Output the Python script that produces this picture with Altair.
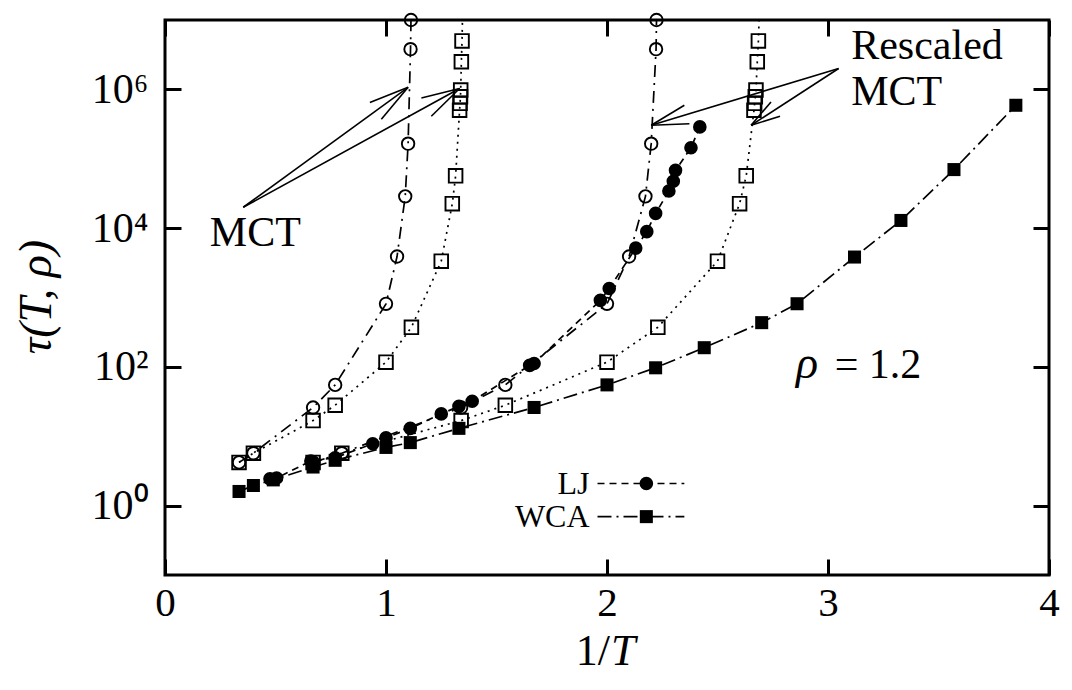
import altair as alt
import pandas as pd

FONT = "Liberation Serif"

# ---- simulation data (filled symbols) ----
lj_x = [0.475, 0.505, 0.66, 0.77, 0.94, 1.00, 1.11, 1.25, 1.33, 1.39, 1.65, 1.67,
        1.97, 2.01, 2.13, 2.18, 2.22, 2.28, 2.30, 2.31, 2.38, 2.42]
lj_y = [2.43, 2.5, 4.4, 4.9, 7.8, 9.5, 13, 21, 27, 32, 105, 112,
        910, 1350, 5150, 8900, 16300, 34300, 47300, 68000, 144000, 288000]

wca_x = [0.335, 0.40, 0.49, 0.67, 0.77, 1.00, 1.11, 1.33, 1.67, 2.00, 2.22, 2.44,
         2.70, 2.86, 3.12, 3.33, 3.57, 3.85]
wca_y = [1.6, 1.95, 2.35, 3.6, 4.5, 6.9, 8.1, 13, 26, 55, 97, 189,
         434, 813, 3830, 12900, 69800, 590000]

# ---- MCT predictions (open symbols) ----
mct_lj_x = [0.335, 0.40, 0.67, 0.77, 1.00, 1.05, 1.087, 1.10, 1.111, 1.113]
mct_lj_y = [4.2, 5.7, 26, 55, 810, 3900, 28700, 165000, 3.8e6, 1.0e7]

mct_wca_x = [0.335, 0.40, 0.67, 0.77, 1.00, 1.115, 1.25, 1.30, 1.315, 1.333,
             1.335, 1.337, 1.338, 1.341, 1.344, 1.347]
mct_wca_y = [4.2, 5.7, 16.8, 28, 117, 372, 3340, 22500, 56700, 5.0e5,
             6.3e5, 7.8e5, 9.8e5, 2.5e6, 5.0e6, 1.5e7]

res_lj_x = [0.67, 0.80, 1.34, 1.54, 2.00, 2.10, 2.174, 2.20, 2.222, 2.224]
res_lj_y = [4.2, 5.7, 26, 55, 810, 3900, 28700, 165000, 3.8e6, 1.0e7]

res_wca_x = [0.67, 0.80, 1.34, 1.54, 2.00, 2.23, 2.50, 2.60, 2.63, 2.665,
             2.668, 2.671, 2.674, 2.68, 2.685, 2.69]
res_wca_y = [4.2, 5.7, 16.8, 28, 117, 372, 3340, 22500, 56700, 5.0e5,
             6.3e5, 7.8e5, 9.8e5, 2.5e6, 5.0e6, 1.5e7]

# ---- axes ----
x_ticks = [0, 1, 2, 3, 4]
y_ticks = [1, 100, 10000, 1000000]
y_tick_labels = ["10⁰", "10²", "10⁴", "10⁶"]

# ---- annotations (data coordinates) ----
ann_text = ["MCT", "Rescaled", "MCT", "= 1.2"]
ann_x = [0.203, 3.105, 3.105, 3.030]
ann_y = [5.6e3, 2.7e6, 5.9e5, 68]
rho_x, rho_y = 2.855, 68

arrow_start_x = [0.354, 0.354, 3.048, 3.048]
arrow_start_y = [2.0e4, 2.0e4, 2.0e6, 2.0e6]
arrow_tip_x = [1.100, 1.333, 2.200, 2.652]
arrow_tip_y = [1.07e6, 1.03e6, 3.04e5, 3.04e5]
barb1_x = [0.927, 1.160, 2.350, 2.742]
barb1_y = [6.45e5, 7.5e5, 5.9e5, 6.6e5]
barb2_x = [0.979, 1.205, 2.373, 2.783]
barb2_y = [3.7e5, 4.1e5, 3.2e5, 4.1e5]

legend_labels = ["LJ", "WCA"]
legend_y = [2.08, 0.694]
legend_text_x = 1.921
legend_line_x = [1.957, 2.350]
legend_mark_x = 2.178

xscale = alt.Scale(domain=[0, 4], nice=False, zero=False)
yscale = alt.Scale(type="log", domain=[0.1, 1e7], nice=False)

label_expr = " : ".join(
    f"datum.value == {v} ? '{l}'" for v, l in zip(y_ticks, y_tick_labels)
) + " : ''"

tick_common = dict(offset=-16, tickSize=16, tickWidth=3, tickColor="black",
                   domain=False, grid=False, title=None)

bottom_axis = alt.Axis(orient="bottom", values=x_ticks, labelFont=FONT, labelFontSize=41,
                       labelColor="black", labelPadding=8, labelFlush=False, format="d",
                       **tick_common)
left_axis = alt.Axis(orient="left", values=y_ticks, labelFont=FONT, labelFontSize=42,
                     labelColor="black", labelPadding=17, labelExpr=label_expr,
                     **tick_common)
top_axis = alt.Axis(orient="top", values=x_ticks, labels=False, **tick_common)
right_axis = alt.Axis(orient="right", values=y_ticks, labels=False, **tick_common)


def X(axis=None):
    return alt.X("x:Q", scale=xscale, axis=axis)


def Y(axis=None):
    return alt.Y("y:Q", scale=yscale, axis=axis)


axis_df = pd.DataFrame({"x": [0, 4], "y": [1, 1e6]})
axes_main = alt.Chart(axis_df).mark_point(opacity=0).encode(x=X(bottom_axis), y=Y(left_axis))
axes_mirror = alt.Chart(axis_df).mark_point(opacity=0).encode(x=X(top_axis), y=Y(right_axis))


def series(xs, ys, shape, filled, size, dash, clip=False):
    df = pd.DataFrame({"x": xs, "y": ys, "i": list(range(len(xs)))})
    base = alt.Chart(df).encode(x=X(), y=Y(), order=alt.Order("i:Q"))
    line = base.mark_line(color="black", strokeWidth=1.7, strokeDash=dash, clip=clip)
    if filled:
        pts = base.mark_point(shape=shape, filled=True, size=size, color="black",
                              opacity=1, clip=clip)
    else:
        pts = base.mark_point(shape=shape, filled=False, size=size, color="black",
                              strokeWidth=1.9, opacity=1, clip=clip)
    return [line, pts]


layers = [axes_main, axes_mirror]
layers += series(mct_wca_x, mct_wca_y, "square", False, 185, [2, 5], clip=True)
layers += series(res_wca_x, res_wca_y, "square", False, 185, [2, 5], clip=True)
layers += series(mct_lj_x, mct_lj_y, "circle", False, 155, [12, 6, 2, 6])
layers += series(res_lj_x, res_lj_y, "circle", False, 155, [12, 6, 2, 6])
layers += series(wca_x, wca_y, "square", True, 170, [14, 5, 2, 5])
layers += series(lj_x, lj_y, "circle", True, 185, [7, 5])

# arrows
shaft_df = pd.DataFrame({"x": arrow_start_x, "y": arrow_start_y,
                         "x2": arrow_tip_x, "y2": arrow_tip_y})
barb_df = pd.DataFrame({"x": barb1_x + barb2_x, "y": barb1_y + barb2_y,
                        "x2": arrow_tip_x + arrow_tip_x, "y2": arrow_tip_y + arrow_tip_y})
for d in (shaft_df, barb_df):
    layers.append(alt.Chart(d).mark_rule(color="black", strokeWidth=1.6).encode(
        x=X(), y=Y(), x2="x2:Q", y2="y2:Q"))

# annotation texts
ann_df = pd.DataFrame({"x": ann_x, "y": ann_y, "t": ann_text})
layers.append(alt.Chart(ann_df).mark_text(font=FONT, fontSize=42, align="left",
                                          baseline="alphabetic", color="black").encode(
    x=X(), y=Y(), text="t:N"))
rho_df = pd.DataFrame({"x": [rho_x], "y": [rho_y], "t": ["ρ"]})
layers.append(alt.Chart(rho_df).mark_text(font=FONT, fontSize=46, fontStyle="italic",
                                          align="left", baseline="alphabetic",
                                          color="black").encode(x=X(), y=Y(), text="t:N"))

# legend
leg_text_df = pd.DataFrame({"x": [legend_text_x] * 2, "y": legend_y, "t": legend_labels})
layers.append(alt.Chart(leg_text_df).mark_text(font=FONT, fontSize=32, align="right",
                                               baseline="middle", color="black").encode(
    x=X(), y=Y(), text="t:N"))
leg_dashes = [[7, 5], [14, 5, 2, 5]]
leg_shapes = ["circle", "square"]
leg_sizes = [185, 170]
for k in range(2):
    ldf = pd.DataFrame({"x": [legend_line_x[0]], "x2": [legend_line_x[1]],
                        "y": [legend_y[k]]})
    layers.append(alt.Chart(ldf).mark_rule(color="black", strokeWidth=1.6,
                                           strokeDash=leg_dashes[k]).encode(
        x=X(), x2="x2:Q", y=Y()))
    pdf = pd.DataFrame({"x": [legend_mark_x], "y": [legend_y[k]]})
    layers.append(alt.Chart(pdf).mark_point(shape=leg_shapes[k], filled=True,
                                            size=leg_sizes[k], color="black",
                                            opacity=1).encode(x=X(), y=Y()))

# axis titles
t1 = pd.DataFrame({"t": ["1/"]})
t2 = pd.DataFrame({"t": ["T"]})
t3 = pd.DataFrame({"t": ["τ(T, ρ)"]})
layers.append(alt.Chart(t1).mark_text(font=FONT, fontSize=44, align="right",
                                      baseline="alphabetic", color="black").encode(
    x=alt.value(445), y=alt.value(645), text="t:N"))
layers.append(alt.Chart(t2).mark_text(font=FONT, fontSize=44, fontStyle="italic",
                                      align="left", baseline="alphabetic",
                                      color="black").encode(
    x=alt.value(446), y=alt.value(645), text="t:N"))
layers.append(alt.Chart(t3).mark_text(font=FONT, fontSize=46, fontStyle="italic",
                                      align="center", baseline="middle", angle=270,
                                      color="black").encode(
    x=alt.value(-128), y=alt.value(277), text="t:N"))

chart = alt.layer(*layers).resolve_axis(x="independent", y="independent").properties(
    width=884, height=555,
    padding={"left": 157, "top": 12, "right": 12, "bottom": 107},
    autosize=alt.AutoSizeParams(type="none"),
    background="white",
).configure_view(stroke="black", strokeWidth=3)

chart.save("out.html", embed_options={"renderer": "svg", "actions": False})
